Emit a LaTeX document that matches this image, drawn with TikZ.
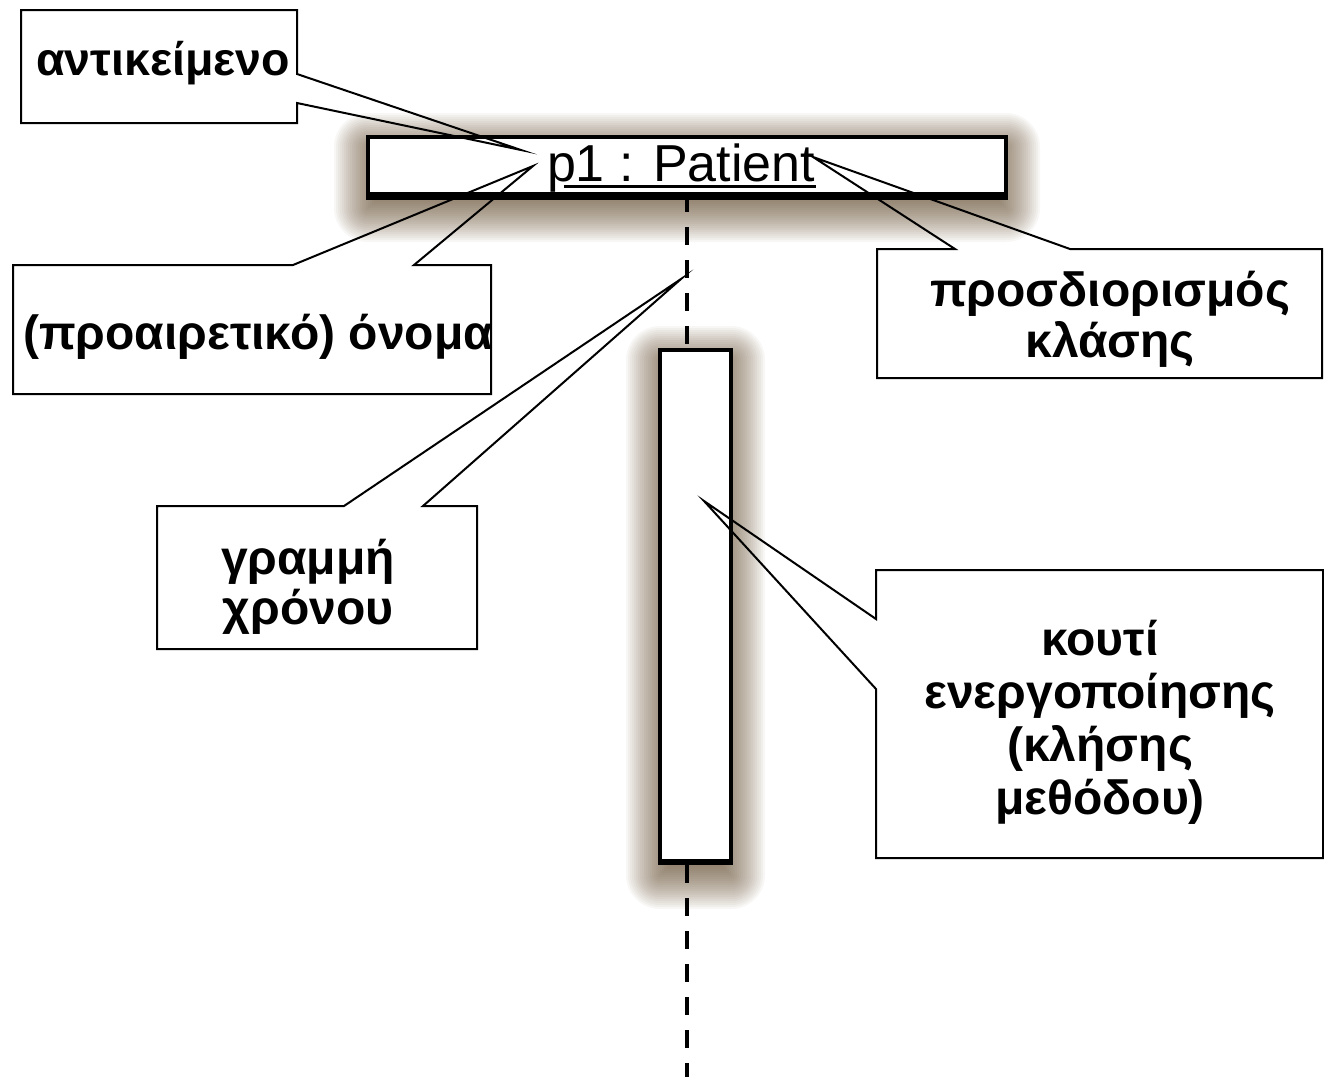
\documentclass[tikz,border=0pt]{standalone}
\usepackage{fontspec}
\setmainfont{Liberation Sans}
\usetikzlibrary{calc,backgrounds}
\definecolor{shadowbrown}{RGB}{95,70,40}
\newcommand\calfont{\fontsize{48}{54}\selectfont\bfseries}
\newcommand\objfont{\fontsize{52}{58}\selectfont}
\begin{document}
\begin{tikzpicture}[x=1pt,y=-1pt,
  calbox/.style={rectangle, inner sep=0pt, outer sep=0pt},
  callout/.style={draw=black, line width=2pt, line join=miter, miter limit=25},
  caltext/.style={font=\calfont, inner sep=0pt, anchor=base},
  umlbox/.style={rectangle, draw=black, fill=white, line width=4pt, inner sep=0pt, outer sep=0pt},
  lifeline/.style={draw=black, line width=4pt, dash pattern=on 18pt off 15pt},
  shadowlayer/.style={fill=shadowbrown, fill opacity=0.045, draw=none}]

\useasboundingbox (0,0) rectangle (1324,1077);

% object and activation boxes
\node[umlbox, minimum width=638pt, minimum height=57pt] (p1box) at (687,165.5) {};
\fill ($(p1box.south west)+(-2,0)$) rectangle ($(p1box.south east)+(2,6)$);
\node[font=\objfont, inner sep=0pt, anchor=base] (p1text) at (681,181) {p1 : Patient};
\draw[line width=3pt] ($(p1text.base west)+(17,5)$) -- ($(p1text.base east)+(1,5)$);

\node[umlbox, minimum width=71pt, minimum height=511pt] (actbox) at (695.5,605.5) {};
\fill ($(actbox.south west)+(-2,0)$) rectangle ($(actbox.south east)+(2,4)$);

% lifeline
\coordinate (lifeend) at (687,1077);
\draw[lifeline] (p1box.south) -- (p1box.south |- actbox.north);
\draw[lifeline] ($(p1box.south |- actbox.south)+(0,4)$) -- (lifeend);

% soft drop shadows
\begin{pgfonlayer}{background}
  \fill[white] (0,0) rectangle (1324,1077);
  \foreach \k [evaluate=\k as \r using {2*\k-8}, evaluate=\k as \c using {max(2*\k-8,1)}] in {0,...,21} {
    \fill[shadowlayer, rounded corners=\c pt] ($(p1box.north west)+({-(\r)},{10-(\r)})$) rectangle ($(p1box.south east)+({\r},{14+\r})$);
    \fill[shadowlayer, rounded corners=\c pt] ($(actbox.north west)+({-(\r)},{10-(\r)})$) rectangle ($(actbox.south east)+({\r},{14+\r})$);
  }
\end{pgfonlayer}

% callout: object
\node[calbox, minimum width=276pt, minimum height=113pt] (objbox) at (159,66.5) {};
\coordinate (objtip) at (521,150);
\draw[callout] (objbox.north west) -- (objbox.north east) -- ($(objbox.north east)+(0,64)$) -- (objtip)
  -- ($(objbox.north east)+(0,93)$) -- (objbox.south east) -- (objbox.south west) -- cycle;
\node[caltext, font=\fontsize{46.5}{52}\selectfont\bfseries] (objtext) at (163,75) {αντικείμενο};

% callout: optional name
\node[calbox, minimum width=478pt, minimum height=129pt] (nombox) at (252,329.5) {};
\coordinate (nomtip) at (533,166);
\draw[callout] (nombox.north west) -- ($(nombox.north west)+(280,0)$) -- (nomtip)
  -- ($(nombox.north west)+(401,0)$) -- (nombox.north east) -- (nombox.south east) -- (nombox.south west) -- cycle;
\node[caltext] (nomtext) at (258,349) {(προαιρετικό) όνομα};

% callout: class
\node[calbox, minimum width=445pt, minimum height=129pt] (clsbox) at (1099.5,313.5) {};
\coordinate (clstip) at (813,157);
\draw[callout] (clsbox.north west) -- ($(clsbox.north west)+(78,0)$) -- (clstip)
  -- ($(clsbox.north west)+(193,0)$) -- (clsbox.north east) -- (clsbox.south east) -- (clsbox.south west) -- cycle;
\node[caltext] (clstexta) at (1110,306) {προσδιορισμός};
\node[caltext] (clstextb) at (1110,357) {κλάσης};

% callout: lifeline
\node[calbox, minimum width=320pt, minimum height=143pt] (timebox) at (317,577.5) {};
\coordinate (timetip) at (681,279);
\draw[callout] (timebox.north west) -- ($(timebox.north west)+(187,0)$) -- (timetip)
  -- ($(timebox.north west)+(266,0)$) -- (timebox.north east) -- (timebox.south east) -- (timebox.south west) -- cycle;
\node[caltext] (timetexta) at (308,574) {γραμμή};
\node[caltext] (timetextb) at (308,624) {χρόνου};

% callout: activation box
\node[calbox, minimum width=447pt, minimum height=288pt] (actcbox) at (1099.5,714) {};
\coordinate (acttip) at (704,501);
\draw[callout] (actcbox.north west) -- (actcbox.north east) -- (actcbox.south east) -- (actcbox.south west)
  -- ($(actcbox.north west)+(0,119)$) -- (acttip) -- ($(actcbox.north west)+(0,49)$) -- cycle;
\node[caltext] (acttexta) at (1100,655) {κουτί};
\node[caltext] (acttextb) at (1100,708) {ενεργοποίησης};
\node[caltext] (acttextc) at (1100,761) {(κλήσης};
\node[caltext] (acttextd) at (1100,814) {μεθόδου)};
\end{tikzpicture}
\end{document}
